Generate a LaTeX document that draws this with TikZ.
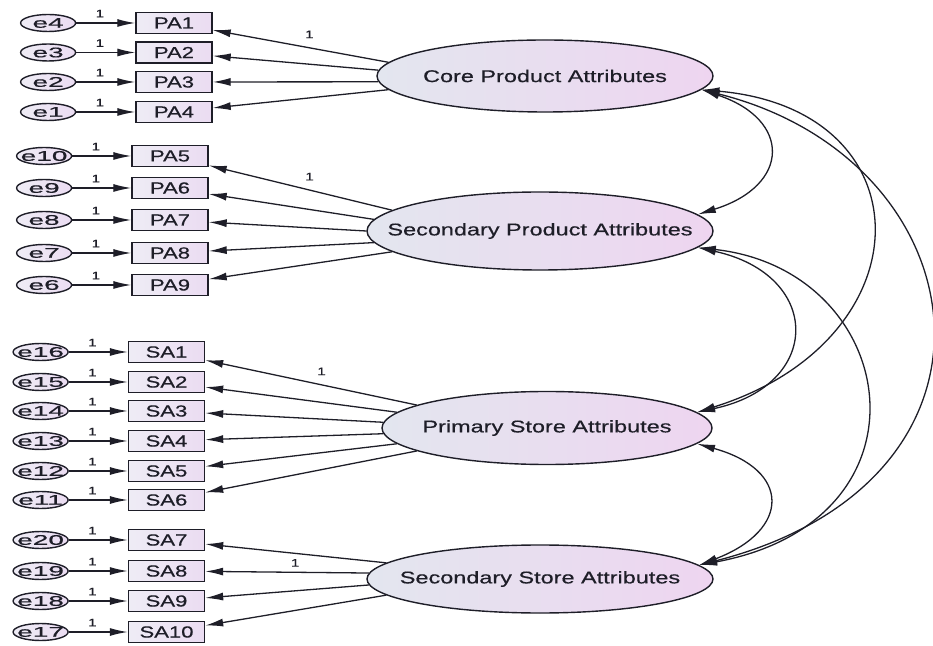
\documentclass[tikz,border=0pt]{standalone}
\usepackage{fontspec}
\newfontfamily\latfont[FakeStretch=1.38,FakeBold=0.5]{Liberation Sans}
\newfontfamily\errfont[FakeStretch=2.0,FakeBold=0.6]{Liberation Sans}
\usetikzlibrary{arrows.meta,positioning,shapes.geometric}
\definecolor{latL}{HTML}{E3E6EF}
\definecolor{latR}{HTML}{EED5F0}
\definecolor{boxL}{HTML}{EEECF5}
\definecolor{boxR}{HTML}{EBDCF2}
\definecolor{ink}{HTML}{1E1E28}
% text that does not widen its node
\newcommand{\midtext}[1]{\makebox[0pt]{#1}}

\begin{document}
\begin{tikzpicture}[
  x=1pt, y=1pt,
  node distance=59pt,
  latent/.style={ellipse, draw=ink, line width=1.4pt, left color=latL, right color=latR, inner sep=0pt, text=ink, font=\latfont\fontsize{17}{20}\selectfont},
  obsbox/.style={draw=ink, line width=1.4pt, left color=boxL, right color=boxR, minimum width=76pt, minimum height=21pt, inner sep=0pt, text=ink, font=\latfont\fontsize{16}{18}\selectfont},
  errell/.style={ellipse, draw=ink, line width=1.4pt, left color=boxL, right color=boxR, minimum width=55pt, minimum height=17pt, inner sep=0pt, text=ink, font=\errfont\fontsize{14}{16}\selectfont},
  load/.style={-{Latex[length=18pt,width=8pt]}, line width=1.3pt, draw=ink},
  cov/.style={{Latex[length=18pt,width=8pt]}-{Latex[length=18pt,width=8pt]}, line width=1.3pt, draw=ink},
  one/.style={font=\latfont\fontsize{11}{12}\selectfont, inner sep=1pt, text=ink}
]
\useasboundingbox (0,0) rectangle (933,645);

% latent factors
\node[latent, minimum width=336pt, minimum height=72pt] (core) at (545,569) {\midtext{Core Product Attributes}};
\node[latent, minimum width=346pt, minimum height=78pt] (secprod) at (540,414) {\midtext{Secondary Product Attributes}};
\node[latent, minimum width=330pt, minimum height=73pt] (primstore) at (547,217) {\midtext{Primary Store Attributes}};
\node[latent, minimum width=346pt, minimum height=68pt] (secstore) at (540,66) {\midtext{Secondary Store Attributes}};

% product items
\node[obsbox] (pa1) at (174,622) {PA1};
\node[obsbox] (pa2) at (174,592.5) {PA2};
\node[obsbox] (pa3) at (174,563) {PA3};
\node[obsbox] (pa4) at (174,533) {PA4};
\node[obsbox] (pa5) at (170,489) {PA5};
\node[obsbox] (pa6) at (170,457) {PA6};
\node[obsbox] (pa7) at (170,425) {PA7};
\node[obsbox] (pa8) at (170,392) {PA8};
\node[obsbox] (pa9) at (170,360) {PA9};

% store items
\node[obsbox] (sa1) at (166.5,293) {SA1};
\node[obsbox] (sa2) at (166.5,263) {SA2};
\node[obsbox] (sa3) at (166.5,234) {SA3};
\node[obsbox] (sa4) at (166.5,204) {SA4};
\node[obsbox] (sa5) at (166.5,174) {SA5};
\node[obsbox] (sa6) at (166.5,145) {SA6};
\node[obsbox] (sa7) at (166.5,105) {SA7};
\node[obsbox] (sa8) at (166.5,74) {SA8};
\node[obsbox] (sa9) at (166.5,44) {SA9};
\node[obsbox] (sa10) at (166.5,13) {SA10};

% error terms
\node[errell, left=of pa1] (e4) {\midtext{e4}};
\node[errell, left=of pa2] (e3) {\midtext{e3}};
\node[errell, left=of pa3] (e2) {\midtext{e2}};
\node[errell, left=of pa4] (e1) {\midtext{e1}};
\node[errell, left=of pa5] (e10) {\midtext{e10}};
\node[errell, left=of pa6] (e9) {\midtext{e9}};
\node[errell, left=of pa7] (e8) {\midtext{e8}};
\node[errell, left=of pa8] (e7) {\midtext{e7}};
\node[errell, left=of pa9] (e6) {\midtext{e6}};
\node[errell, left=of sa1] (e16) {\midtext{e16}};
\node[errell, left=of sa2] (e15) {\midtext{e15}};
\node[errell, left=of sa3] (e14) {\midtext{e14}};
\node[errell, left=of sa4] (e13) {\midtext{e13}};
\node[errell, left=of sa5] (e12) {\midtext{e12}};
\node[errell, left=of sa6] (e11) {\midtext{e11}};
\node[errell, left=of sa7] (e20) {\midtext{e20}};
\node[errell, left=of sa8] (e19) {\midtext{e19}};
\node[errell, left=of sa9] (e18) {\midtext{e18}};
\node[errell, left=of sa10] (e17) {\midtext{e17}};

% error paths
\draw[load] (e4) -- node[one, above=4pt, pos=.4] {1} (pa1);
\draw[load] (e3) -- node[one, above=4pt, pos=.4] {1} (pa2);
\draw[load] (e2) -- node[one, above=4pt, pos=.4] {1} (pa3);
\draw[load] (e1) -- node[one, above=4pt, pos=.4] {1} (pa4);
\draw[load] (e10) -- node[one, above=4pt, pos=.4] {1} (pa5);
\draw[load] (e9) -- node[one, above=4pt, pos=.4] {1} (pa6);
\draw[load] (e8) -- node[one, above=4pt, pos=.4] {1} (pa7);
\draw[load] (e7) -- node[one, above=4pt, pos=.4] {1} (pa8);
\draw[load] (e6) -- node[one, above=4pt, pos=.4] {1} (pa9);
\draw[load] (e16) -- node[one, above=4pt, pos=.4] {1} (sa1);
\draw[load] (e15) -- node[one, above=4pt, pos=.4] {1} (sa2);
\draw[load] (e14) -- node[one, above=4pt, pos=.4] {1} (sa3);
\draw[load] (e13) -- node[one, above=4pt, pos=.4] {1} (sa4);
\draw[load] (e12) -- node[one, above=4pt, pos=.4] {1} (sa5);
\draw[load] (e11) -- node[one, above=4pt, pos=.4] {1} (sa6);
\draw[load] (e20) -- node[one, above=4pt, pos=.4] {1} (sa7);
\draw[load] (e19) -- node[one, above=4pt, pos=.4] {1} (sa8);
\draw[load] (e18) -- node[one, above=4pt, pos=.4] {1} (sa9);
\draw[load] (e17) -- node[one, above=4pt, pos=.4] {1} (sa10);

% loadings
\draw[load] (core.175) -- node[one, above=8pt, pos=.45] {1} (pa1);
\draw[load] (core.178) -- (pa2);
\draw[load] (core.182) -- (pa3);
\draw[load] (core.185) -- (pa4);
\draw[load] (secprod.172) -- node[one, above=8pt, pos=.45] {1} (pa5);
\draw[load] (secprod.176) -- (pa6);
\draw[load] (secprod.180) -- (pa7);
\draw[load] (secprod.184) -- (pa8);
\draw[load] (secprod.188) -- (pa9);
\draw[load] (primstore.170) -- node[one, above=8pt, pos=.45] {1} (sa1);
\draw[load] (primstore.174) -- (sa2);
\draw[load] (primstore.178) -- (sa3);
\draw[load] (primstore.182) -- (sa4);
\draw[load] (primstore.186) -- (sa5);
\draw[load] (primstore.190) -- (sa6);
\draw[load] (secstore.174) -- (sa7);
\draw[load] (secstore.178) -- node[one, above=4pt, pos=.45] {1} (sa8);
\draw[load] (secstore.182) -- (sa9);
\draw[load] (secstore.186) -- (sa10);

% covariances
\draw[cov] (core.-5) .. controls +(90,-30) and +(93,29) .. (secprod.6);
\draw[cov] (core.-5) .. controls +(227,-20) and +(231,72) .. (primstore.6);
\draw[cov] (core.-5) .. controls +(280,-70) and +(332,85) .. (secstore.5);
\draw[cov] (secprod.-6) .. controls +(125,-27.5) and +(126,27) .. (primstore.6);
\draw[cov] (secprod.-6) .. controls +(203,-22.5) and +(242,45) .. (secstore.5);
\draw[cov] (primstore.-6) .. controls +(94,-26) and +(92,35) .. (secstore.5);
\end{tikzpicture}
\end{document}
